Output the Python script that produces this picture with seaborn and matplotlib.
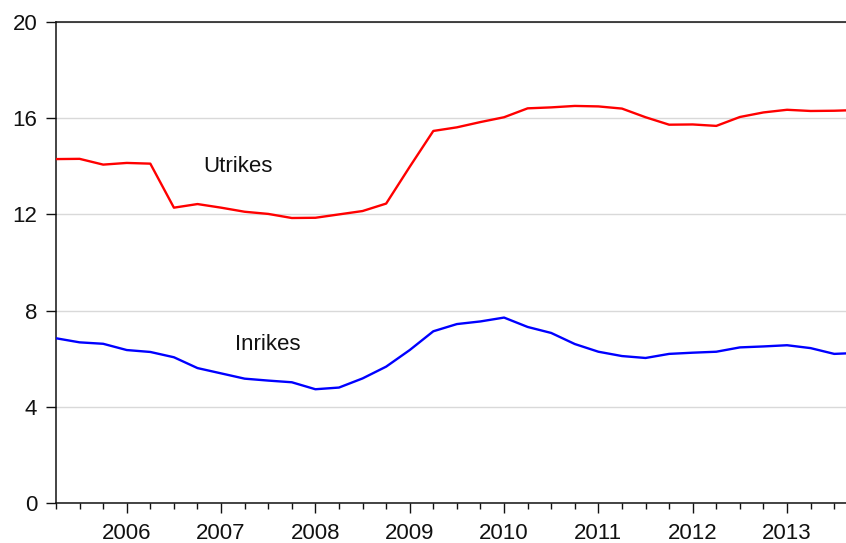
import numpy as np
import pandas as pd
import matplotlib
matplotlib.use("Agg")
import matplotlib.pyplot as plt
import seaborn as sns
from matplotlib.ticker import MultipleLocator, FixedLocator

# --- Data: quarterly, 2005Q2 .. 2013Q4 ---
quarters = pd.period_range("2005Q2", "2013Q4", freq="Q")
utrikes = [14.30, 14.31, 14.07, 14.14, 14.11, 12.28, 12.43, 12.28, 12.11, 12.02,
           11.85, 11.86, 12.00, 12.14, 12.45, 13.98, 15.47, 15.62, 15.84, 16.04,
           16.41, 16.45, 16.51, 16.49, 16.40, 16.04, 15.73, 15.74, 15.68, 16.05,
           16.24, 16.35, 16.30, 16.31, 16.34]
inrikes = [6.85, 6.68, 6.62, 6.36, 6.28, 6.06, 5.61, 5.39, 5.17, 5.09,
           5.02, 4.73, 4.80, 5.18, 5.67, 6.36, 7.14, 7.44, 7.55, 7.71,
           7.32, 7.07, 6.61, 6.29, 6.11, 6.03, 6.20, 6.25, 6.29, 6.47,
           6.51, 6.56, 6.44, 6.20, 6.24]
series_names = ["Utrikes", "Inrikes"]
years = list(range(2006, 2014))

# fractional year: Q1 sits on the year tick
xpos = np.array([p.year + (p.quarter - 1) / 4 for p in quarters])
df = pd.DataFrame({
    "x": np.concatenate([xpos, xpos]),
    "value": utrikes + inrikes,
    "series": [series_names[0]] * len(xpos) + [series_names[1]] * len(xpos),
})

sns.set_style("white")
plt.rcParams["font.family"] = ["Liberation Sans", "DejaVu Sans"]

fig = plt.figure(figsize=(8.46, 5.43), dpi=100)
ax = fig.add_axes([56 / 846, 40 / 543, 790 / 846, 481 / 543])

sns.lineplot(data=df, x="x", y="value", hue="series",
             palette={"Utrikes": "#ff0000", "Inrikes": "#0000ff"},
             linewidth=1.7, legend=False, ax=ax, zorder=3)

ax.set_xlim(2005.25, 2005.25 + 33.5 / 4)
ax.set_ylim(0, 20)
ax.yaxis.set_major_locator(MultipleLocator(4))
ax.xaxis.set_major_locator(FixedLocator(years))
ax.xaxis.set_minor_locator(MultipleLocator(0.25))
ax.set_xticklabels([str(y) for y in years])
ax.set_xlabel("")
ax.set_ylabel("")

ax.grid(axis="y", color="#d9d9d9", linewidth=1.0, zorder=0)
ax.grid(axis="x", visible=False)

for side in ["top", "left", "bottom"]:
    ax.spines[side].set_visible(True)
    ax.spines[side].set_color("#111111")
    ax.spines[side].set_linewidth(1.1)
ax.spines["right"].set_visible(False)

ax.tick_params(axis="both", which="major", direction="out", length=7.5, width=1,
               color="#111111", labelsize=16, labelcolor="#111111", bottom=True, left=True)
ax.tick_params(axis="y", which="major", pad=6)
ax.tick_params(axis="x", which="minor", direction="out", length=4.5, width=1,
               color="#111111", bottom=True)
ax.tick_params(axis="x", which="major", pad=7)

ax.text(2007.183, 13.78, "Utrikes", fontsize=16, color="#111111", ha="center", va="baseline")
ax.text(2007.493, 6.36, "Inrikes", fontsize=16, color="#111111", ha="center", va="baseline")

fig.savefig("out.png", dpi=100)
